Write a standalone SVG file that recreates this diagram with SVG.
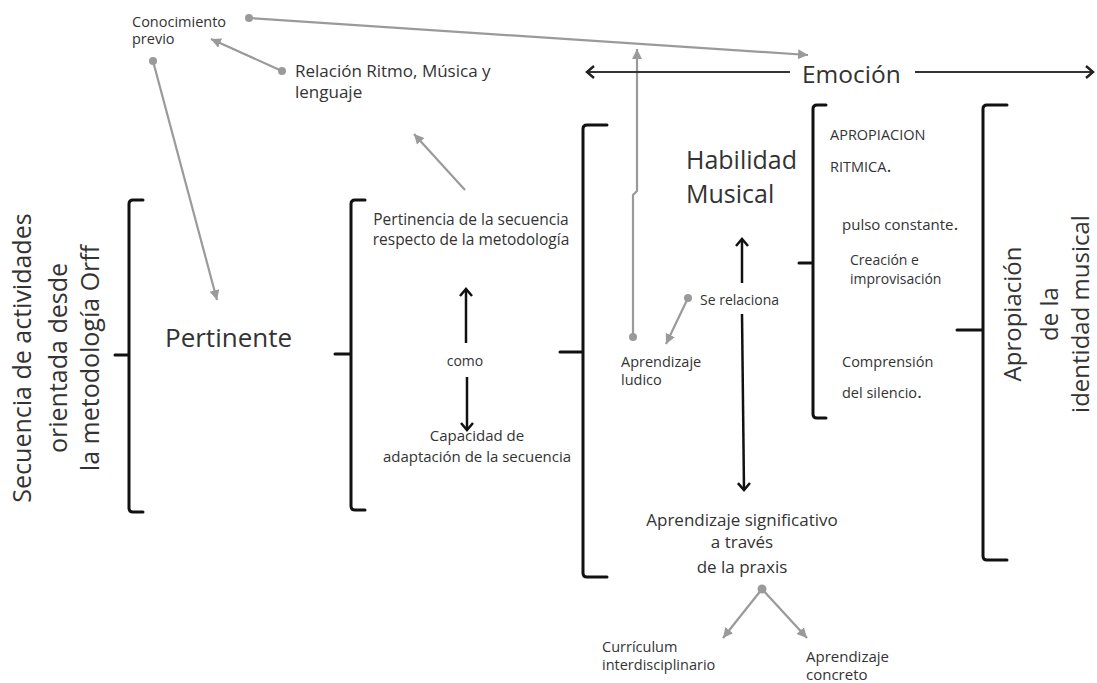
<svg xmlns="http://www.w3.org/2000/svg" width="1097" height="683" viewBox="0 0 1097 683">
<defs>
<style>
text{font-family:"Open Sans","Liberation Sans",sans-serif;fill:#333}
.br{fill:none;stroke:#111;stroke-width:3;stroke-linecap:round;stroke-linejoin:round}
.g{fill:none;stroke:#9a9a9a;stroke-width:2.2}
.k{fill:none;stroke:#111;stroke-width:2.5}
.e{fill:none;stroke:#333;stroke-width:2}
.dot{fill:#9a9a9a}
</style>
<marker id="ga" markerUnits="userSpaceOnUse" markerWidth="14" markerHeight="14" refX="10" refY="5" orient="auto"><path d="M0,0 L10,5 L0,10 Z" fill="#9a9a9a"/></marker>
<marker id="ka" markerUnits="userSpaceOnUse" markerWidth="16" markerHeight="16" refX="8" refY="7" orient="auto"><path d="M1,1 L8,7 L1,13" fill="none" stroke="#111" stroke-width="2.5"/></marker>
<marker id="ea" markerUnits="userSpaceOnUse" markerWidth="16" markerHeight="16" refX="8" refY="7" orient="auto"><path d="M1,1 L8,7 L1,13" fill="none" stroke="#222" stroke-width="2.5"/></marker>
</defs>
<rect width="1097" height="683" fill="#fff"/>

<g id="connectors">
<path class="g" d="M249,18 L808,55" marker-end="url(#ga)"/>
<path class="g" d="M282,71 L211,39" marker-end="url(#ga)"/>
<path class="g" d="M153,61 L217,300" marker-end="url(#ga)"/>
<path class="g" d="M465,190 L414,134" marker-end="url(#ga)"/>
<path class="g" d="M633,337 L633,195 L637,191 L637,49" marker-end="url(#ga)"/>
<path class="g" d="M688,298 L666,344" marker-end="url(#ga)"/>
<path class="g" d="M762,589 L723,638" marker-end="url(#ga)"/>
<path class="g" d="M762,589 L807,638" marker-end="url(#ga)"/>
<circle class="dot" cx="249" cy="18" r="4"/>
<circle class="dot" cx="282" cy="71" r="4"/>
<circle class="dot" cx="153" cy="61" r="4"/>
<circle class="dot" cx="633" cy="337" r="4"/>
<circle class="dot" cx="688" cy="298" r="4"/>
<circle class="dot" cx="762" cy="589" r="4.5"/>
<path class="e" d="M790,72 L587,72" marker-end="url(#ea)"/>
<path class="e" d="M915,72 L1093,72" marker-end="url(#ea)"/>
<path class="k" d="M466,343 L466,289" marker-end="url(#ka)"/>
<path class="k" d="M467,377 L467,430" marker-end="url(#ka)"/>
<path class="k" d="M742,283 L742,239" marker-end="url(#ka)"/>
<path class="k" d="M742,314 L744,490" marker-end="url(#ka)"/>
</g>

<g id="brackets">
<path class="br" d="M143,200 H133 Q129,200 129,204 V508 Q129,512 133,512 H143 M115,355 H129"/>
<path class="br" d="M365,200 H355 Q351,200 351,204 V506 Q351,510 355,510 H365 M335,354 H351"/>
<path class="br" d="M607,125 H587 Q583,125 583,129 V573 Q583,577 587,577 H607 M560,352 H583"/>
<path class="br" d="M826,105 H817 Q813,105 813,109 V414 Q813,418 817,418 H826 M799,263 H813"/>
<path class="br" d="M1007,105 H987 Q983,105 983,109 V556 Q983,560 987,560 H1007 M957,330 H983"/>
</g>

<g id="n-secuencia">
<text font-size="25" text-anchor="middle" transform="translate(0,358) rotate(-90)"><tspan x="0" y="31">Secuencia de actividades</tspan><tspan x="0" y="67">orientada desde</tspan><tspan x="0" y="99">la metodología Orff</tspan></text>
</g>
<g id="n-pertinente"><text x="165" y="347" font-size="26">Pertinente</text></g>
<g id="n-conocimiento"><text x="132" y="27" font-size="14.5">Conocimiento</text><text x="132" y="44" font-size="14.5">previo</text></g>
<g id="n-relacion"><text x="295" y="77" font-size="17">Relación Ritmo, Música y</text><text x="295" y="98" font-size="17">lenguaje</text></g>
<g id="n-pertinencia"><text x="471" y="225" font-size="15.5" text-anchor="middle">Pertinencia de la secuencia</text><text x="471" y="245" font-size="15.5" text-anchor="middle">respecto de la metodología</text></g>
<g id="n-como"><text x="465" y="366" font-size="14" text-anchor="middle">como</text></g>
<g id="n-capacidad"><text x="477" y="441" font-size="15" text-anchor="middle">Capacidad de</text><text x="477" y="462" font-size="15" text-anchor="middle">adaptación de la secuencia</text></g>
<g id="n-emocion"><text x="802" y="83" font-size="24.5">Emoción</text></g>
<g id="n-habilidad"><text x="686" y="169" font-size="25">Habilidad</text><text x="686" y="203" font-size="25">Musical</text></g>
<g id="n-serelaciona"><text x="700" y="305" font-size="14">Se relaciona</text></g>
<g id="n-ludico"><text x="621" y="367" font-size="14.5">Aprendizaje</text><text x="621" y="385" font-size="14.5">ludico</text></g>
<g id="n-significativo"><text x="742" y="526" font-size="17" text-anchor="middle">Aprendizaje significativo</text><text x="742" y="548" font-size="17" text-anchor="middle">a través</text><text x="742" y="573" font-size="17" text-anchor="middle">de la praxis</text></g>
<g id="n-curriculum"><text x="602" y="652" font-size="14.5">Currículum</text><text x="602" y="670" font-size="14.5">interdisciplinario</text></g>
<g id="n-concreto"><text x="806" y="662" font-size="15">Aprendizaje</text><text x="806" y="680" font-size="15">concreto</text></g>
<g id="n-apropiacion-ritmica"><text x="830" y="140" font-size="14.5">APROPIACION</text><text x="830" y="172" font-size="14.5">RITMICA<tspan font-size="19">.</tspan></text></g>
<g id="n-pulso"><text x="842" y="230" font-size="15">pulso constante<tspan font-size="19">.</tspan></text></g>
<g id="n-creacion"><text x="850" y="265" font-size="14">Creación e</text><text x="850" y="284" font-size="14">improvisación</text></g>
<g id="n-comprension"><text x="842" y="367" font-size="14.5">Comprensión</text><text x="842" y="398" font-size="14.5">del silencio<tspan font-size="19">.</tspan></text></g>
<g id="n-identidad">
<text font-size="24" text-anchor="middle" transform="translate(0,314) rotate(-90)"><tspan x="0" y="1021">Apropiación</tspan><tspan x="0" y="1058">de la</tspan><tspan x="0" y="1089">identidad musical</tspan></text>
</g>
</svg>
